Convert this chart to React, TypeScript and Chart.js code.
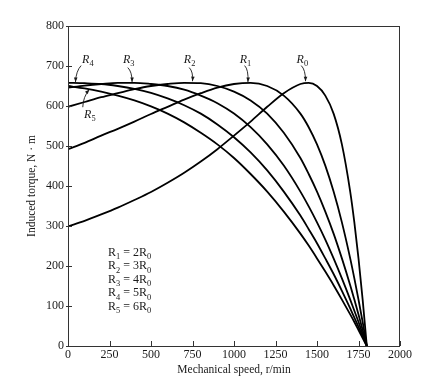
import React, { useEffect, useRef } from "react";
import { Chart, registerables } from "chart.js";

Chart.register(...registerables);

// Mechanical speed samples (r/min)
const speeds = [0, 100, 200, 300, 400, 500, 600, 700, 800, 900, 1000, 1100, 1200, 1300, 1400, 1450, 1500, 1550, 1600, 1650, 1700, 1725, 1750, 1775, 1800];

// Induced torque (N·m)
const torqueR0 = [299, 313, 329, 346, 365, 385, 408, 433, 461, 492, 526, 561, 598, 632, 655, 658, 650, 626, 581, 504, 386, 309, 219, 116, 0];
const torqueR1 = [492, 508, 526, 543, 561, 580, 598, 616, 632, 646, 655, 658, 650, 626, 581, 547, 504, 451, 386, 309, 219, 169, 116, 60, 0];
const torqueR2 = [598, 610, 622, 632, 642, 650, 655, 658, 657, 650, 636, 614, 581, 533, 470, 430, 386, 336, 281, 219, 152, 116, 79, 40, 0];
const torqueR3 = [646, 651, 655, 658, 658, 655, 650, 641, 626, 607, 581, 547, 504, 451, 386, 349, 309, 266, 219, 169, 116, 88, 60, 30, 0];
const torqueR4 = [658, 657, 655, 650, 643, 633, 619, 602, 581, 554, 522, 484, 439, 386, 326, 292, 257, 219, 180, 138, 94, 71, 48, 24, 0];
const torqueR5 = [650, 644, 636, 626, 614, 599, 581, 559, 533, 504, 470, 430, 386, 336, 281, 251, 219, 186, 152, 116, 79, 60, 40, 20, 0];

const seriesNames = ["R0", "R1", "R2", "R3", "R4", "R5"];
const seriesValues = [torqueR0, torqueR1, torqueR2, torqueR3, torqueR4, torqueR5];

const xTickValues = [0, 250, 500, 750, 1000, 1250, 1500, 1750, 2000];
const yTickValues = [0, 100, 200, 300, 400, 500, 600, 700, 800];

// Curve tags: subscript, label anchor, arrow start / control / tip (data units)
const tagSubs = ["4", "3", "2", "1", "0", "5"];
const tagLabelX = [85, 331, 698, 1034, 1377, 97];
const tagLabelY = [708, 708, 708, 708, 708, 571];
const tagStart = [[79, 701], [360, 696], [730, 696], [1064, 701], [1405, 701], [89, 597]];
const tagCtrl = [[49, 688], [386, 686], [755, 686], [1088, 691], [1431, 691], [91, 623]];
const tagTip = [[45, 660], [386, 660], [750, 662], [1084, 660], [1431, 662], [128, 641]];

// Relation list R_k = m R_0
const relationSubs = ["1", "2", "3", "4", "5"];
const relationFactors = ["2", "3", "4", "5", "6"];
const relationX = 241;
const relationY = [226, 192, 158, 124, 91];

const SERIF = "'Liberation Serif', 'DejaVu Serif', serif";
const INK = "#1a1a1a";

function drawSubText(
  ctx: CanvasRenderingContext2D,
  parts: [string, boolean][],
  x: number,
  y: number,
  size: number,
  italic: boolean
) {
  let cx = x;
  for (const [t, sub] of parts) {
    const s = sub ? size * 0.7 : size;
    ctx.font = `${italic && !sub ? "italic " : ""}${s}px ${SERIF}`;
    ctx.fillText(t, cx, sub ? y + size * 0.28 : y);
    cx += ctx.measureText(t).width;
  }
}

const decorPlugin = {
  id: "decor",
  afterDatasetsDraw(chart: any) {
    const ctx: CanvasRenderingContext2D = chart.ctx;
    const { left, right, top, bottom } = chart.chartArea;
    const xs = chart.scales.x;
    const ys = chart.scales.y;
    ctx.save();
    // frame
    ctx.strokeStyle = "#333";
    ctx.lineWidth = 1;
    ctx.strokeRect(left + 0.5, top + 0.5, right - left - 1, bottom - top);
    // inward ticks
    ctx.beginPath();
    for (const v of xTickValues) {
      const px = Math.round(xs.getPixelForValue(v)) + 0.5;
      ctx.moveTo(px, bottom);
      ctx.lineTo(px, bottom - 5);
    }
    for (const v of yTickValues) {
      const py = Math.round(ys.getPixelForValue(v)) + 0.5;
      ctx.moveTo(left - 2, py);
      ctx.lineTo(left + 4, py);
    }
    ctx.stroke();

    // curve tags with arrows
    ctx.fillStyle = INK;
    ctx.strokeStyle = INK;
    ctx.textBaseline = "alphabetic";
    ctx.textAlign = "left";
    for (let i = 0; i < tagSubs.length; i++) {
      const lx = xs.getPixelForValue(tagLabelX[i]);
      const ly = ys.getPixelForValue(tagLabelY[i]);
      drawSubText(ctx, [["R", false], [tagSubs[i], true]], lx, ly, 12, true);
      const sx = xs.getPixelForValue(tagStart[i][0]);
      const sy = ys.getPixelForValue(tagStart[i][1]);
      const cx = xs.getPixelForValue(tagCtrl[i][0]);
      const cy = ys.getPixelForValue(tagCtrl[i][1]);
      const ex = xs.getPixelForValue(tagTip[i][0]);
      const ey = ys.getPixelForValue(tagTip[i][1]);
      ctx.lineWidth = 0.9;
      ctx.beginPath();
      ctx.moveTo(sx, sy);
      ctx.quadraticCurveTo(cx, cy, ex, ey);
      ctx.stroke();
      const ang = Math.atan2(ey - cy, ex - cx);
      const L = 4.5;
      const W = 1.8;
      ctx.beginPath();
      ctx.moveTo(ex, ey);
      ctx.lineTo(ex - L * Math.cos(ang) + W * Math.sin(ang), ey - L * Math.sin(ang) - W * Math.cos(ang));
      ctx.lineTo(ex - L * Math.cos(ang) - W * Math.sin(ang), ey - L * Math.sin(ang) + W * Math.cos(ang));
      ctx.closePath();
      ctx.fill();
    }

    // relation list
    for (let i = 0; i < relationSubs.length; i++) {
      const px = xs.getPixelForValue(relationX);
      const py = ys.getPixelForValue(relationY[i]);
      drawSubText(
        ctx,
        [["R", false], [relationSubs[i], true], [" = " + relationFactors[i] + "R", false], ["0", true]],
        px,
        py,
        12,
        false
      );
    }
    ctx.restore();
  },
};

export default function App() {
  const ref = useRef<HTMLCanvasElement | null>(null);

  useEffect(() => {
    if (!ref.current) return;
    const datasets = seriesNames.map((name, i) => ({
      label: name,
      data: speeds.map((s, j) => ({ x: s, y: seriesValues[i][j] })),
      borderColor: "#000",
      borderWidth: 1.8,
      pointRadius: 0,
      fill: false,
      cubicInterpolationMode: "monotone" as const,
    }));
    const chart = new Chart(ref.current, {
      type: "line",
      data: { datasets },
      options: {
        responsive: false,
        animation: false,
        layout: { padding: { top: 26, right: 32, left: 0, bottom: 0 } },
        plugins: { legend: { display: false }, tooltip: { enabled: false } },
        scales: {
          x: {
            type: "linear",
            min: 0,
            max: 2000,
            afterBuildTicks: (s: any) => {
              s.ticks = xTickValues.map((v) => ({ value: v }));
            },
            ticks: {
              autoSkip: false,
              maxRotation: 0,
              padding: 2,
              color: INK,
              font: { family: SERIF, size: 12 },
              callback: (v: any) => String(v),
            },
            grid: { display: false, drawTicks: false },
            border: { display: false },
            title: {
              display: true,
              text: "Mechanical speed, r/min",
              color: INK,
              font: { family: SERIF, size: 11.5 },
              padding: { top: 0, bottom: 9 },
            },
            afterFit: (s: any) => {
              s.height = 40;
            },
          },
          y: {
            type: "linear",
            min: 0,
            max: 800,
            afterBuildTicks: (s: any) => {
              s.ticks = yTickValues.map((v) => ({ value: v }));
            },
            ticks: {
              padding: 4,
              color: INK,
              font: { family: SERIF, size: 12 },
              callback: (v: any) => String(v),
            },
            grid: { display: false, drawTicks: false },
            border: { display: false },
            title: {
              display: true,
              text: "Induced torque, N · m",
              color: INK,
              font: { family: SERIF, size: 11.5 },
              padding: { top: 25, bottom: 0 },
            },
            afterFit: (s: any) => {
              s.width = 68;
            },
          },
        },
      },
      plugins: [decorPlugin],
    });
    return () => chart.destroy();
  }, []);

  return (
    <div style={{ position: "absolute", left: 0, top: 0, width: 432, height: 386, background: "#fff" }}>
      <canvas ref={ref} width={432} height={386} style={{ display: "block" }} />
    </div>
  );
}
